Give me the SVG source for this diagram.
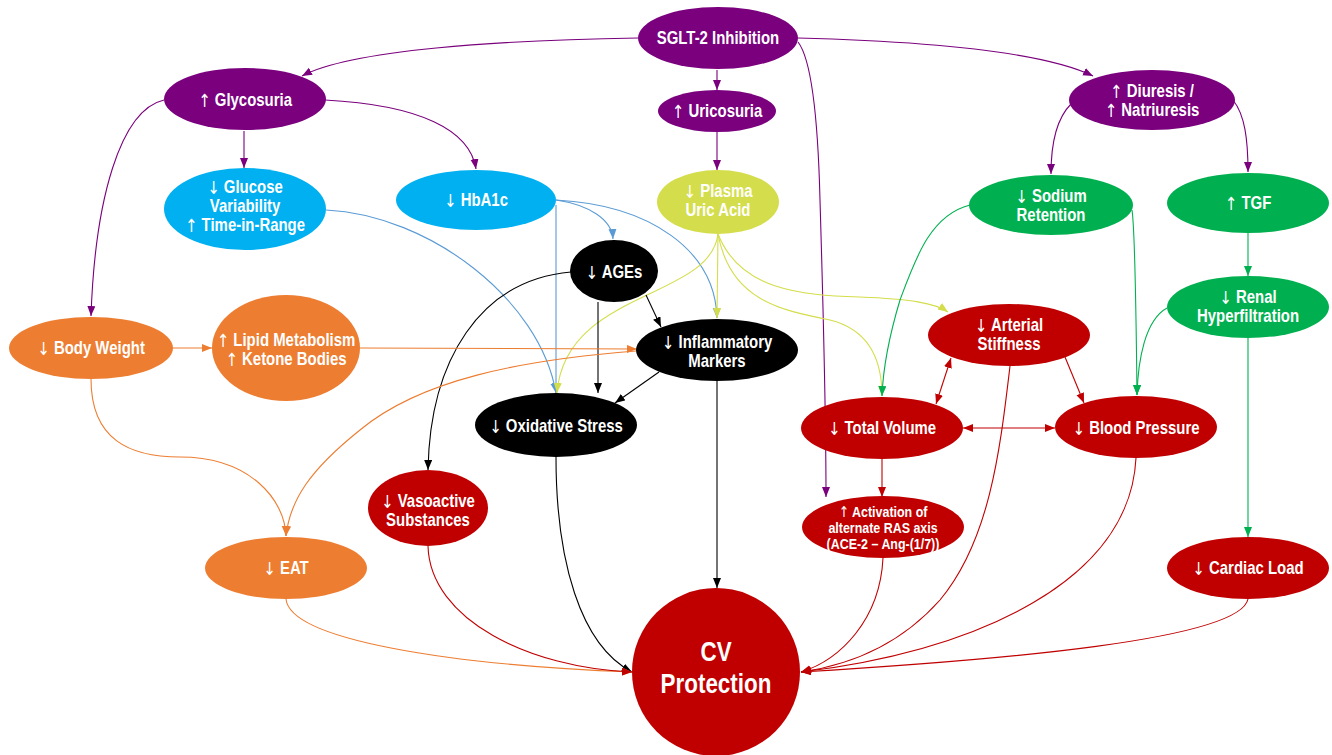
<svg xmlns="http://www.w3.org/2000/svg" width="1332" height="755" viewBox="0 0 1332 755">
<style>
text{font-family:"Liberation Sans",Arial,sans-serif;font-weight:bold;fill:#fff;text-anchor:middle;dominant-baseline:central;font-size:18px;transform-box:fill-box;transform-origin:center;transform:scaleX(0.83)}
text.sm{font-size:15px}
text.big{font-size:27px}
.ar{font-family:"DejaVu Sans","Liberation Sans",sans-serif;font-weight:normal}
.pu{fill:#7a007d}.bl{fill:#00b0f0}.ye{fill:#d4dd4b}.gr{fill:#00b050}.or{fill:#ed7d31}.bk{fill:#000}.rd{fill:#c00000}
#edges path{fill:none;stroke-width:1.1}
.cp{stroke:#7a007d}.cb{stroke:#5b9bd5}.ck{stroke:#000}.cy{stroke:#d4dd4b}.co{stroke:#ed7d31}.cr{stroke:#c00000}.cg{stroke:#00b050}
</style>
<defs>
<marker id="mp" markerUnits="userSpaceOnUse" markerWidth="11" markerHeight="9" refX="10" refY="4" orient="auto-start-reverse"><path d="M0,0L10,4L0,8z" fill="#7a007d"/></marker>
<marker id="mb" markerUnits="userSpaceOnUse" markerWidth="11" markerHeight="9" refX="10" refY="4" orient="auto-start-reverse"><path d="M0,0L10,4L0,8z" fill="#5b9bd5"/></marker>
<marker id="mk" markerUnits="userSpaceOnUse" markerWidth="11" markerHeight="9" refX="10" refY="4" orient="auto-start-reverse"><path d="M0,0L10,4L0,8z" fill="#000"/></marker>
<marker id="my" markerUnits="userSpaceOnUse" markerWidth="11" markerHeight="9" refX="10" refY="4" orient="auto-start-reverse"><path d="M0,0L10,4L0,8z" fill="#d4dd4b"/></marker>
<marker id="mo" markerUnits="userSpaceOnUse" markerWidth="11" markerHeight="9" refX="10" refY="4" orient="auto-start-reverse"><path d="M0,0L10,4L0,8z" fill="#ed7d31"/></marker>
<marker id="mr" markerUnits="userSpaceOnUse" markerWidth="11" markerHeight="9" refX="10" refY="4" orient="auto-start-reverse"><path d="M0,0L10,4L0,8z" fill="#c00000"/></marker>
<marker id="mg" markerUnits="userSpaceOnUse" markerWidth="11" markerHeight="9" refX="10" refY="4" orient="auto-start-reverse"><path d="M0,0L10,4L0,8z" fill="#00b050"/></marker>
</defs>
<rect width="1332" height="755" fill="#fff"/>
<g id="edges">
<path class="cp" d="M638,38 C500,40 350,50 302,76" marker-end="url(#mp)"/>
<path class="cp" d="M717,70 L717,90" marker-end="url(#mp)"/>
<path class="cp" d="M798,38 C950,42 1050,55 1093,76" marker-end="url(#mp)"/>
<path class="cp" d="M798,42 C812,60 818,120 820,200 C823,300 826,400 826,497" marker-end="url(#mp)"/>
<path class="cp" d="M717,132 L717,170" marker-end="url(#mp)"/>
<path class="cp" d="M244,131 L244,168" marker-end="url(#mp)"/>
<path class="cp" d="M325,100 C420,105 470,130 476,169" marker-end="url(#mp)"/>
<path class="cp" d="M164,100 C120,110 95,200 91,316" marker-end="url(#mp)"/>
<path class="cp" d="M1071,104 C1055,120 1051,150 1051,174" marker-end="url(#mp)"/>
<path class="cp" d="M1233,100 C1245,115 1248,140 1248,172" marker-end="url(#mp)"/>
<path class="cb" d="M326,210 C430,215 540,300 556,393" marker-end="url(#mb)"/>
<path class="cb" d="M556,205 L556,393" marker-end="url(#mb)"/>
<path class="cb" d="M556,200 C590,205 612,220 613,239" marker-end="url(#mb)"/>
<path class="cb" d="M556,200 C650,205 715,250 717,318" marker-end="url(#mb)"/>
<path class="cy" d="M718,234 C710,300 565,290 557,393" marker-end="url(#my)"/>
<path class="cy" d="M718,234 L717,318" marker-end="url(#my)"/>
<path class="cy" d="M718,234 C730,300 780,310 830,320 C870,330 882,360 882,396" marker-end="url(#my)"/>
<path class="cy" d="M718,234 C740,290 800,295 860,297 C910,299 935,303 948,312" marker-end="url(#my)"/>
<path class="ck" d="M571,272 C480,280 430,360 428,470" marker-end="url(#mk)"/>
<path class="ck" d="M598,302 L598,393" marker-end="url(#mk)"/>
<path class="ck" d="M646,295 L661,327" marker-end="url(#mk)"/>
<path class="ck" d="M659,372 L615,403" marker-end="url(#mk)"/>
<path class="ck" d="M717,381 L717,588" marker-end="url(#mk)"/>
<path class="ck" d="M556,457 C556,560 580,645 632,672" marker-end="url(#mk)"/>
<path class="co" d="M172,348 L212,348" marker-end="url(#mo)"/>
<path class="co" d="M360,348 L637,349" marker-end="url(#mo)"/>
<path class="co" d="M91,379 C91,440 130,457 180,457 C250,457 285,500 286,536" marker-end="url(#mo)"/>
<path class="co" d="M636,351 C520,360 420,380 360,430 C310,470 290,500 286,536" marker-end="url(#mo)"/>
<path class="co" d="M286,599 C290,640 450,665 632,672" marker-end="url(#mo)"/>
<path class="cr" d="M428,546 C430,620 530,668 632,672" marker-end="url(#mr)"/>
<path class="cr" d="M882,459 L882,497" marker-end="url(#mr)"/>
<path class="cr" d="M883,558 C880,620 840,660 801,672" marker-end="url(#mr)"/>
<path class="cr" d="M1010,366 C1000,450 990,540 940,600 C900,645 850,665 801,672" marker-end="url(#mr)"/>
<path class="cr" d="M1136,458 C1130,580 980,650 801,672" marker-end="url(#mr)"/>
<path class="cr" d="M1248,599 C1240,640 1000,660 801,672" marker-end="url(#mr)"/>
<path class="cr" d="M936,404 L951,358" marker-start="url(#mr)" marker-end="url(#mr)"/>
<path class="cr" d="M1065,357 L1084,403" marker-end="url(#mr)"/>
<path class="cr" d="M963,428 L1055,428" marker-start="url(#mr)" marker-end="url(#mr)"/>
<path class="cg" d="M970,205 C930,215 915,260 900,300 C888,340 883,370 882,396" marker-end="url(#mg)"/>
<path class="cg" d="M1132,210 C1135,230 1136,300 1137,395" marker-end="url(#mg)"/>
<path class="cg" d="M1248,233 L1248,276" marker-end="url(#mg)"/>
<path class="cg" d="M1167,308 C1145,320 1138,360 1137,395" marker-end="url(#mg)"/>
<path class="cg" d="M1248,338 L1248,537" marker-end="url(#mg)"/>
</g>
<g id="sglt"><ellipse class="pu" cx="718" cy="38" rx="80" ry="31"/><text x="718" y="38">SGLT-2 Inhibition</text></g>
<g id="glycosuria"><ellipse class="pu" cx="245" cy="99" rx="81" ry="31"/><text x="245" y="100"><tspan class="ar">↑</tspan> Glycosuria</text></g>
<g id="uricosuria"><ellipse class="pu" cx="717" cy="111" rx="59" ry="21"/><text x="717" y="111"><tspan class="ar">↑</tspan> Uricosuria</text></g>
<g id="diuresis"><ellipse class="pu" cx="1152" cy="100" rx="83" ry="30"/><text x="1152" y="91"><tspan class="ar">↑</tspan> Diuresis /</text><text x="1152" y="110"><tspan class="ar">↑</tspan> Natriuresis</text></g>
<g id="glucose"><ellipse class="bl" cx="245" cy="209" rx="81" ry="41"/><text x="245" y="187"><tspan class="ar">↓</tspan> Glucose</text><text x="245" y="206">Variability</text><text x="245" y="225"><tspan class="ar">↑</tspan> Time-in-Range</text></g>
<g id="hba1c"><ellipse class="bl" cx="476" cy="200" rx="80" ry="30"/><text x="476" y="200"><tspan class="ar">↓</tspan> HbA1c</text></g>
<g id="plasma"><ellipse class="ye" cx="718" cy="202" rx="61" ry="32"/><text x="718" y="191"><tspan class="ar">↓</tspan> Plasma</text><text x="718" y="210">Uric Acid</text></g>
<g id="sodium"><ellipse class="gr" cx="1051" cy="205" rx="82" ry="30"/><text x="1051" y="196"><tspan class="ar">↓</tspan> Sodium</text><text x="1051" y="215">Retention</text></g>
<g id="tgf"><ellipse class="gr" cx="1248" cy="203" rx="81" ry="30"/><text x="1248" y="203"><tspan class="ar">↑</tspan> TGF</text></g>
<g id="ages"><ellipse class="bk" cx="614" cy="271" rx="44" ry="31"/><text x="614" y="272"><tspan class="ar">↓</tspan> AGEs</text></g>
<g id="inflammatory"><ellipse class="bk" cx="717" cy="350" rx="81" ry="31"/><text x="717" y="342"><tspan class="ar">↓</tspan> Inflammatory</text><text x="717" y="361">Markers</text></g>
<g id="oxidative"><ellipse class="bk" cx="556" cy="425" rx="81" ry="32"/><text x="556" y="426"><tspan class="ar">↓</tspan> Oxidative Stress</text></g>
<g id="bodyweight"><ellipse class="or" cx="91" cy="348" rx="82" ry="31"/><text x="91" y="348"><tspan class="ar">↓</tspan> Body Weight</text></g>
<g id="lipid"><ellipse class="or" cx="286" cy="348" rx="74" ry="53"/><text x="286" y="340"><tspan class="ar">↑</tspan> Lipid Metabolism</text><text x="286" y="359"><tspan class="ar">↑</tspan> Ketone Bodies</text></g>
<g id="arterial"><ellipse class="rd" cx="1009" cy="335" rx="81" ry="31"/><text x="1009" y="325"><tspan class="ar">↓</tspan> Arterial</text><text x="1009" y="344">Stiffness</text></g>
<g id="renal"><ellipse class="gr" cx="1248" cy="307" rx="81" ry="31"/><text x="1248" y="297"><tspan class="ar">↓</tspan> Renal</text><text x="1248" y="316">Hyperfiltration</text></g>
<g id="totalvolume"><ellipse class="rd" cx="882" cy="428" rx="81" ry="31"/><text x="882" y="428"><tspan class="ar">↓</tspan> Total Volume</text></g>
<g id="bloodpressure"><ellipse class="rd" cx="1136" cy="427" rx="81" ry="31"/><text x="1136" y="428"><tspan class="ar">↓</tspan> Blood Pressure</text></g>
<g id="vasoactive"><ellipse class="rd" cx="428" cy="508" rx="60" ry="38"/><text x="428" y="501"><tspan class="ar">↓</tspan> Vasoactive</text><text x="428" y="520">Substances</text></g>
<g id="eat"><ellipse class="or" cx="286" cy="568" rx="81" ry="31"/><text x="286" y="568"><tspan class="ar">↓</tspan> EAT</text></g>
<g id="activation"><ellipse class="rd" cx="883" cy="527" rx="81" ry="31"/><text class="sm" x="883" y="512"><tspan class="ar">↑</tspan> Activation of</text><text class="sm" x="883" y="528">alternate RAS axis</text><text class="sm" x="883" y="544">(ACE-2 – Ang-(1/7))</text></g>
<g id="cardiac"><ellipse class="rd" cx="1248" cy="568" rx="81" ry="31"/><text x="1248" y="568"><tspan class="ar">↓</tspan> Cardiac Load</text></g>
<g id="cv"><ellipse class="rd" cx="716" cy="672" rx="84" ry="84"/><text class="big" x="716" y="652">CV</text><text class="big" x="716" y="684">Protection</text></g>
</svg>
